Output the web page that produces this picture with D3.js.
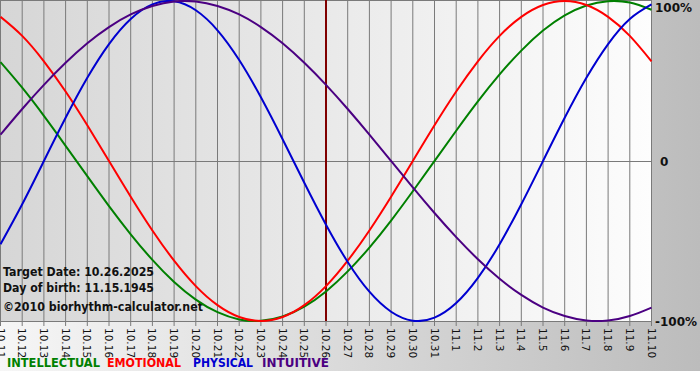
<!DOCTYPE html>
<html><head><meta charset="utf-8">
<script src="https://cdn.jsdelivr.net/npm/d3@7/dist/d3.min.js"></script>
<style>body{margin:0;padding:0;background:#fff}svg{display:block}</style>
</head><body>
<script>
const dates = ["10.11","10.12","10.13","10.14","10.15","10.16","10.17","10.18","10.19","10.20","10.21","10.22","10.23","10.24","10.25","10.26","10.27","10.28","10.29","10.30","10.31","11.1","11.2","11.3","11.4","11.5","11.6","11.7","11.8","11.9","11.10"];
const intellectual = [0.618,0.458,0.282,0.095,-0.095,-0.282,-0.458,-0.618,-0.756,-0.866,-0.945,-0.990,-0.999,-0.972,-0.910,-0.815,-0.690,-0.541,-0.372,-0.189,0.000,0.189,0.372,0.541,0.690,0.815,0.910,0.972,0.999,0.990,0.945];
const emotional = [0.901,0.782,0.623,0.434,0.223,0.000,-0.223,-0.434,-0.623,-0.782,-0.901,-0.975,-1.000,-0.975,-0.901,-0.782,-0.623,-0.434,-0.223,0.000,0.223,0.434,0.623,0.782,0.901,0.975,1.000,0.975,0.901,0.782,0.623];
const physical = [-0.520,-0.270,0.000,0.270,0.520,0.731,0.888,0.979,0.998,0.942,0.817,0.631,0.398,0.136,-0.136,-0.398,-0.631,-0.817,-0.942,-0.998,-0.979,-0.888,-0.731,-0.520,-0.270,0.000,0.270,0.520,0.731,0.888,0.979];
const intuitive = [0.165,0.325,0.476,0.614,0.736,0.837,0.916,0.969,0.997,0.997,0.969,0.916,0.837,0.736,0.614,0.476,0.325,0.165,0.000,-0.165,-0.325,-0.476,-0.614,-0.736,-0.837,-0.916,-0.969,-0.997,-0.997,-0.969,-0.916];
const seriesNames = ["INTELLECTUAL","EMOTIONAL","PHYSICAL","INTUITIVE"];
const seriesColors = ["#008000","#ff0000","#0000d0","#4b0082"];
const targetDate = "10.26";
const yTicks = [1, 0, -1];
const yTickLabels = ["100%", "0", "-100%"];
const infoLines = ["Target Date: 10.26.2025","Day of birth: 11.15.1945","\u00a92010 biorhythm-calculator.net"];

const W = 700, H = 380;
const svg = d3.select("body").append("svg").attr("width", W).attr("height", H);
const defs = svg.append("defs");
const g1 = defs.append("linearGradient").attr("id","outer").attr("x1","0").attr("x2","1").attr("y1","0").attr("y2","0");
g1.append("stop").attr("offset","0").attr("stop-color","#f6f6f6");
g1.append("stop").attr("offset","1").attr("stop-color","#bcbcbc");
const g2 = defs.append("linearGradient").attr("id","plotbg").attr("x1","0").attr("x2","1").attr("y1","0").attr("y2","0");
g2.append("stop").attr("offset","0").attr("stop-color","#d6d6d6");
g2.append("stop").attr("offset","1").attr("stop-color","#fdfdfd");

svg.append("rect").attr("width", W).attr("height", 371).attr("fill","url(#outer)");

const pLeft = 0.5, pRight = 651.5, pTop = 1, pBottom = 321;
const x = d3.scalePoint().domain(dates).range([pLeft, pRight]);
const y = d3.scaleLinear().domain([-1, 1]).range([pBottom, pTop]);

svg.append("rect").attr("x", 0).attr("y", 0).attr("width", pRight).attr("height", pBottom)
  .attr("fill","url(#plotbg)");

// grid
svg.append("g").selectAll("line").data(dates).join("line")
  .attr("x1", d => x(d)).attr("x2", d => x(d)).attr("y1", 0).attr("y2", pBottom + 5)
  .attr("stroke","#7a7a7a").attr("stroke-width",1);
svg.append("line").attr("x1",0).attr("x2",pRight).attr("y1",0.5).attr("y2",0.5).attr("stroke","#7a7a7a");
svg.append("line").attr("x1",0).attr("x2",pRight).attr("y1",Math.round(y(0))+0.5).attr("y2",Math.round(y(0))+0.5).attr("stroke","#7a7a7a");
svg.append("line").attr("x1",0).attr("x2",pRight).attr("y1",pBottom+0.5).attr("y2",pBottom+0.5).attr("stroke","#7a7a7a");

// x labels
svg.append("g").selectAll("text").data(dates).join("text")
  .attr("transform", d => `translate(${x(d)-4},${pBottom+7}) rotate(90)`)
  .attr("font-family","DejaVu Sans, Verdana, sans-serif").attr("font-size",10.5)
  .attr("fill","#111").text(d => d);

// y labels
svg.append("g").selectAll("text").data(yTicks).join("text")
  .attr("x", (d,i) => i === 1 ? 660 : 655).attr("y", d => d === 1 ? 12 : y(d) + 5)
  .attr("font-family","DejaVu Sans, Verdana, sans-serif").attr("font-weight","bold").attr("font-size",12)
  .attr("fill","#111").text((d,i) => yTickLabels[i]);

// target line
svg.append("line").attr("x1", x(targetDate)).attr("x2", x(targetDate)).attr("y1", 0).attr("y2", pBottom)
  .attr("stroke","#800000").attr("stroke-width",2);

// info text
const infoY = [276, 292, 311];
const infoW = [151, 151, 200];
svg.append("g").selectAll("text").data(infoLines).join("text")
  .attr("x", 3).attr("y", (d,i) => infoY[i])
  .attr("font-family","DejaVu Sans, Verdana, sans-serif").attr("font-weight","bold")
  .attr("font-size", (d,i)=> i===2 ? 12.5 : 12)
  .attr("textLength", (d,i) => infoW[i]).attr("lengthAdjust","spacingAndGlyphs")
  .attr("fill","#111").text(d => d);

// curves
const all = [intellectual, emotional, physical, intuitive];
const line = d3.line().x((d,i) => x(dates[i])).y(d => y(d)).curve(d3.curveNatural);
const clip = defs.append("clipPath").attr("id","pc");
clip.append("rect").attr("x",0).attr("y",0).attr("width",pRight+1).attr("height",pBottom+1);
svg.append("g").attr("clip-path","url(#pc)").selectAll("path").data(all).join("path")
  .attr("d", line).attr("fill","none")
  .attr("stroke", (d,i) => seriesColors[i]).attr("stroke-width", 2);

// legend
const legX = [7, 107, 193, 262];
const legW = [93, 74, 60, 67];
svg.append("g").selectAll("text").data(seriesNames).join("text")
  .attr("x", (d,i) => legX[i]).attr("y", 367)
  .attr("font-family","DejaVu Sans, Verdana, sans-serif").attr("font-weight","bold").attr("font-size",12)
  .attr("fill", (d,i) => seriesColors[i])
  .attr("textLength", (d,i) => legW[i]).attr("lengthAdjust","spacingAndGlyphs")
  .text(d => d);
</script>
</body></html>
